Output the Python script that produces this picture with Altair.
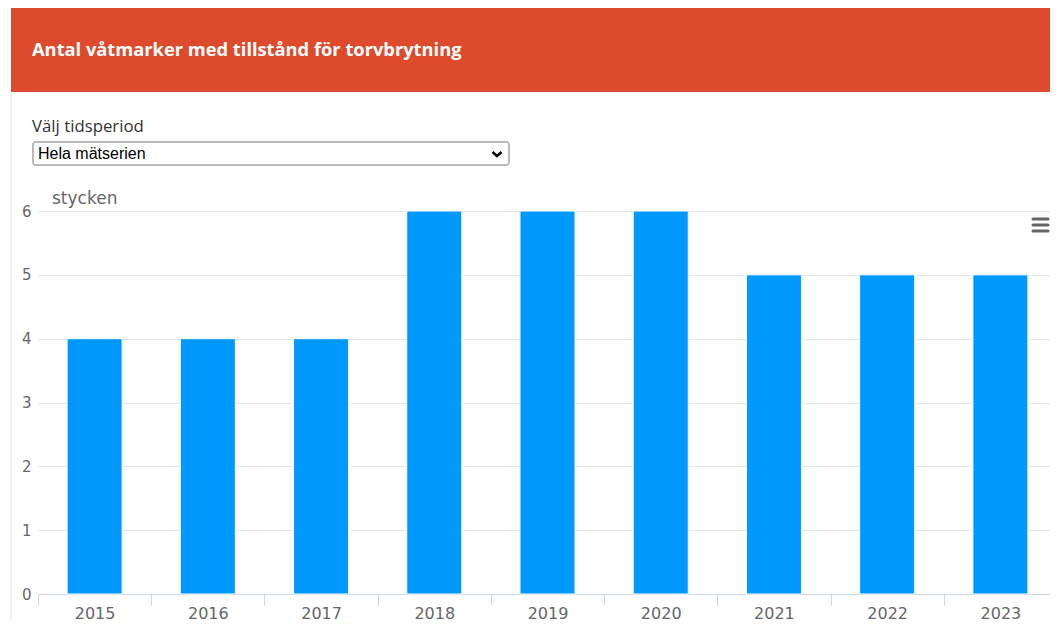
import altair as alt
import pandas as pd

years = ["2015", "2016", "2017", "2018", "2019", "2020", "2021", "2022", "2023"]
counts = [4, 4, 4, 6, 6, 6, 5, 5, 5]
y_ticks = [0, 1, 2, 3, 4, 5, 6]

header_title = "Antal våtmarker med tillstånd för torvbrytning"
select_label = "Välj tidsperiod"
select_value = "Hela mätserien"
unit_label = "stycken"

df = pd.DataFrame({"year": years, "count": counts})

W = 1012
H = 383

bars = alt.Chart(df).mark_bar(
    color="#0099FF", stroke="#ffffff", strokeWidth=1, width={"band": 0.486}
).encode(
    x=alt.X("year:N", sort=years, title=None,
            scale=alt.Scale(paddingInner=0, paddingOuter=0, range=[0, 1019]),
            axis=alt.Axis(labelAngle=0, tickBand="extent", grid=False,
                          domainColor="#ccd6eb", tickColor="#ccd6eb", tickSize=11,
                          labelColor="#666666", labelFontSize=16, labelFont="DejaVu Sans",
                          labelPadding=0)),
    y=alt.Y("count:Q", title=None, scale=alt.Scale(domain=[0, 6], nice=False),
            axis=alt.Axis(values=y_ticks, domain=False, ticks=False, grid=True,
                          gridColor="#e6e6e6", labelColor="#666666", labelFontSize=15,
                          labelFont="DejaVu Sans", labelPadding=7, format="d")),
)

base = alt.Chart(pd.DataFrame({"a": [0]}))

header = base.mark_rect(color="#DE4A2C").encode(
    x=alt.value(-27), x2=alt.value(1022), y=alt.value(-203), y2=alt.value(-119))
header_text = base.mark_text(
    text=header_title, align="left", baseline="middle", color="#ffffff",
    font="Open Sans", fontWeight="bold", fontSize=18.3).encode(
    x=alt.value(-6), y=alt.value(-160))
left_border = base.mark_rule(color="#e3e3e3", strokeWidth=1).encode(
    x=alt.value(-27), y=alt.value(-119), y2=alt.value(420))
select_lbl = base.mark_text(
    text=select_label, align="left", baseline="middle", color="#333333",
    font="Open Sans", fontSize=16.8).encode(x=alt.value(-6), y=alt.value(-84))
select_box = base.mark_rect(fill="#ffffff", stroke="#767676", strokeWidth=1,
                            cornerRadius=2).encode(
    x=alt.value(-5), x2=alt.value(471), y=alt.value(-69), y2=alt.value(-46))
select_txt = base.mark_text(
    text=select_value, align="left", baseline="middle", color="#000000",
    font="Liberation Sans", fontSize=16).encode(x=alt.value(0), y=alt.value(-57))
chevron = base.mark_point(
    shape="M-1,-0.45L0,0.45L1,-0.45", filled=False, stroke="#000000",
    strokeWidth=2.5, size=81, opacity=1).encode(x=alt.value(459), y=alt.value(-57))
unit = base.mark_text(
    text=unit_label, align="left", baseline="middle", color="#666666",
    font="DejaVu Sans", fontSize=17).encode(x=alt.value(14), y=alt.value(-12))

menu_layers = []
for yy in [8, 14, 20]:
    menu_layers.append(base.mark_rule(color="#666666", strokeWidth=3, strokeCap="round").encode(
        x=alt.value(995), x2=alt.value(1010), y=alt.value(yy)))

chart = alt.layer(
    header, header_text, left_border, select_lbl, select_box, select_txt, chevron,
    bars, unit, *menu_layers
).properties(
    width=W, height=H,
    autosize=alt.AutoSizeParams(type="none"),
    padding={"left": 30, "top": 203, "right": 0, "bottom": 27},
).configure(background="#ffffff").configure_view(stroke=None)

chart.save("out.html", embed_options={"renderer": "svg", "actions": False})
